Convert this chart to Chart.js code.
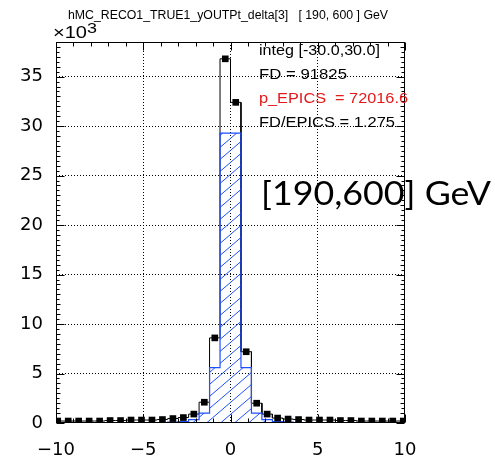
<!DOCTYPE html>
<html><head><meta charset="utf-8">
<script src="https://cdn.jsdelivr.net/npm/chart.js@4/dist/chart.umd.min.js"></script>
<style>
html,body{margin:0;padding:0;background:#fff;}
#wrap{position:relative;width:495px;height:461px;overflow:hidden;background:#fff;}
#c{position:absolute;left:0;top:0;}
.t{position:absolute;white-space:pre;transform-origin:0 0;color:#000;margin:0;padding:0;}
</style></head><body>
<div id="wrap">
<canvas id="c" width="495" height="461"></canvas>
<div class="t" id="title">hMC_RECO1_TRUE1_yOUTPt_delta[3]   [ 190, 600 ] GeV</div>
<div class="t" id="x10">×10</div>
<div class="t" id="exp">3</div>
<div class="t" id="s1">integ [-30.0,30.0]</div>
<div class="t" id="s2">FD = 91825</div>
<div class="t" id="s3" style="color:#e3191c">p_EPICS  = 72016.6</div>
<div class="t" id="s4">FD/EPICS = 1.275</div>
<div class="t" id="big">[190,600] GeV</div>
</div>
<script>
// ---------- data ----------
const xTicks = [-10, -5, 0, 5, 10];
const yTicks = [0, 5, 10, 15, 20, 25, 30, 35];           // in units of 10^3
const binCenters = [-9.9, -9.3, -8.7, -8.1, -7.5, -6.9, -6.3, -5.7, -5.1, -4.5, -3.9, -3.3, -2.7,
                    -2.1, -1.5, -0.9, -0.3, 0.3, 0.9, 1.5, 2.1, 2.7, 3.3, 3.9, 4.5, 5.1, 5.7,
                    6.3, 6.9, 7.5, 8.1, 8.7, 9.3, 9.9];
const binWidth = 0.6;
const fdCounts = [200, 200, 200, 200, 200, 250, 250, 300, 300, 300, 350, 450, 550,
                  900, 2100, 8600, 36800, 32400, 7200, 2000, 900, 500, 400, 350, 300, 300, 300,
                  250, 250, 200, 200, 200, 200, 200];
const epicsCounts = [0, 0, 0, 0, 0, 0, 0, 0, 0, 0, 0, 100, 150,
                     350, 1000, 5600, 29300, 29300, 5600, 1000, 350, 150, 100, 0, 0, 0, 0,
                     0, 0, 0, 0, 0, 0, 0];

// ---------- helpers ----------
function stepPoints(values, trim) {
  let first = 0, last = values.length - 1;
  if (trim) {
    while (first < last && values[first] === 0) first++;
    while (last > first && values[last] === 0) last--;
  }
  const pts = [];
  if (trim) pts.push({x: binCenters[first] - binWidth / 2, y: 0});
  for (let i = first; i <= last; i++) {
    pts.push({x: binCenters[i] - binWidth / 2, y: values[i]});
    pts.push({x: binCenters[i] + binWidth / 2, y: values[i]});
  }
  if (trim) pts.push({x: binCenters[last] + binWidth / 2, y: 0});
  return pts;
}
function makeHatch(color) {
  const w = 14, h = 12;
  const c = document.createElement('canvas'); c.width = w; c.height = h;
  const g = c.getContext('2d');
  g.strokeStyle = color; g.lineWidth = 1;
  g.beginPath();
  g.moveTo(-w, 2 * h); g.lineTo(2 * w, -h);
  g.moveTo(-2 * w, 2 * h); g.lineTo(w, -h);
  g.moveTo(0, 2 * h); g.lineTo(3 * w, -h);
  g.stroke();
  return g.createPattern(c, 'repeat');
}
const BLUE = '#1f4fff';

const frameTicks = {
  id: 'frameTicks',
  afterDatasetsDraw(chart) {
    const {ctx, chartArea: a, scales: {x, y}} = chart;
    const L = Math.round(a.left) + 0.5, R = Math.round(a.right) - 0.5;
    const T = Math.round(a.top) + 0.5, B = Math.round(a.bottom) - 0.5;
    ctx.save();
    ctx.strokeStyle = '#000'; ctx.lineWidth = 1;
    ctx.beginPath();
    // x ticks (top and bottom, pointing inwards)
    for (let v = x.min; v <= x.max + 1e-9; v += 1) {
      const px = Math.round(x.getPixelForValue(v)) + 0.5;
      const len = (Math.abs(v % 5) < 1e-9) ? 8 : 4;
      ctx.moveTo(px, T); ctx.lineTo(px, T + len);
      ctx.moveTo(px, B); ctx.lineTo(px, B - len);
    }
    // y ticks (left and right)
    for (let v = 0; v <= y.max + 1e-9; v += 500) {
      const py = Math.round(y.getPixelForValue(v)) + 0.5;
      const len = (v % 5000 === 0) ? 8 : (v % 1000 === 0 ? 4 : 3);
      ctx.moveTo(L, py); ctx.lineTo(L + len, py);
      ctx.moveTo(R, py); ctx.lineTo(R - len, py);
    }
    ctx.stroke();
    ctx.strokeRect(L, T, R - L, B - T);
    ctx.restore();
  }
};

const ctx = document.getElementById('c').getContext('2d');
new Chart(ctx, {
  type: 'scatter',
  data: {
    datasets: [
      {label: 'FD', data: binCenters.map((c, i) => ({x: c, y: fdCounts[i]})),
       showLine: false, pointStyle: 'rect', pointRadius: 4.7, pointBorderWidth: 0,
       backgroundColor: '#000', borderColor: '#000', order: 0},
      {label: 'p_EPICS', data: stepPoints(epicsCounts, true), showLine: true, pointRadius: 0,
       borderColor: BLUE, borderWidth: 1.2, backgroundColor: makeHatch(BLUE), fill: 'origin', order: 1},
      {label: 'FD hist', data: stepPoints(fdCounts, false), showLine: true, pointRadius: 0,
       borderColor: '#000', borderWidth: 1, fill: false, order: 2}
    ]
  },
  options: {
    responsive: false, animation: false, devicePixelRatio: 1,
    layout: {padding: {top: 42, right: 90, left: 0, bottom: 0}},
    plugins: {legend: {display: false}, tooltip: {enabled: false}, title: {display: false}},
    elements: {line: {tension: 0}},
    scales: {
      x: {
        type: 'linear', min: -10, max: 10,
        afterBuildTicks: s => { s.ticks = xTicks.map(v => ({value: v})); },
        ticks: {color: '#000', font: {family: 'DejaVu Sans', size: 18}, padding: 17, maxRotation: 0,
                callback: v => String(v).replace('-', '\u2212')},
        grid: {drawTicks: false, lineWidth: 1,
               color: c => (c.tick && (c.tick.value === -10 || c.tick.value === 10)) ? 'rgba(0,0,0,0)' : '#000'},
        border: {display: false, dash: [1, 2]},
        afterFit: s => { s.height = 38; }
      },
      y: {
        type: 'linear', min: 0, max: 38500,
        afterBuildTicks: s => { s.ticks = yTicks.map(v => ({value: v * 1000})); },
        ticks: {color: '#000', font: {family: 'DejaVu Sans', size: 18}, padding: 13,
                callback: v => String(v / 1000)},
        grid: {drawTicks: false, lineWidth: 1,
               color: c => (c.tick && c.tick.value === 0) ? 'rgba(0,0,0,0)' : '#000'},
        border: {display: false, dash: [1, 2]},
        afterFit: s => { s.width = 56; }
      }
    }
  },
  plugins: [frameTicks]
});

// ---------- text overlays ----------
const mctx = document.createElement('canvas').getContext('2d');
function placeText(id, left, baseline, width, size, family) {
  const el = document.getElementById(id);
  const font = size + 'px ' + family;
  el.style.font = font;
  el.style.lineHeight = size + 'px';
  mctx.font = font;
  const m = mctx.measureText(el.textContent);
  const asc = m.fontBoundingBoxAscent, desc = m.fontBoundingBoxDescent;
  const top = baseline - ((size - (asc + desc)) / 2 + asc);
  el.style.left = left + 'px';
  el.style.top = top + 'px';
  el.style.transform = 'scaleX(' + (width / m.width) + ')';
}
const LS = "'Liberation Sans', Arial, sans-serif";
placeText('title', 68, 18.5, 320, 12, LS);
placeText('x10', 53, 38, 34, 17, LS);
placeText('exp', 87, 32.5, 10, 15, LS);
placeText('s1', 259, 55, 121, 14, LS);
placeText('s2', 259, 78.5, 88, 14, LS);
placeText('s3', 259, 102.5, 149, 14, LS);
placeText('s4', 259, 126.5, 136, 14, LS);
placeText('big', 261, 205, 230, 32, "Lato, 'Open Sans', sans-serif");
</script>
</body></html>
